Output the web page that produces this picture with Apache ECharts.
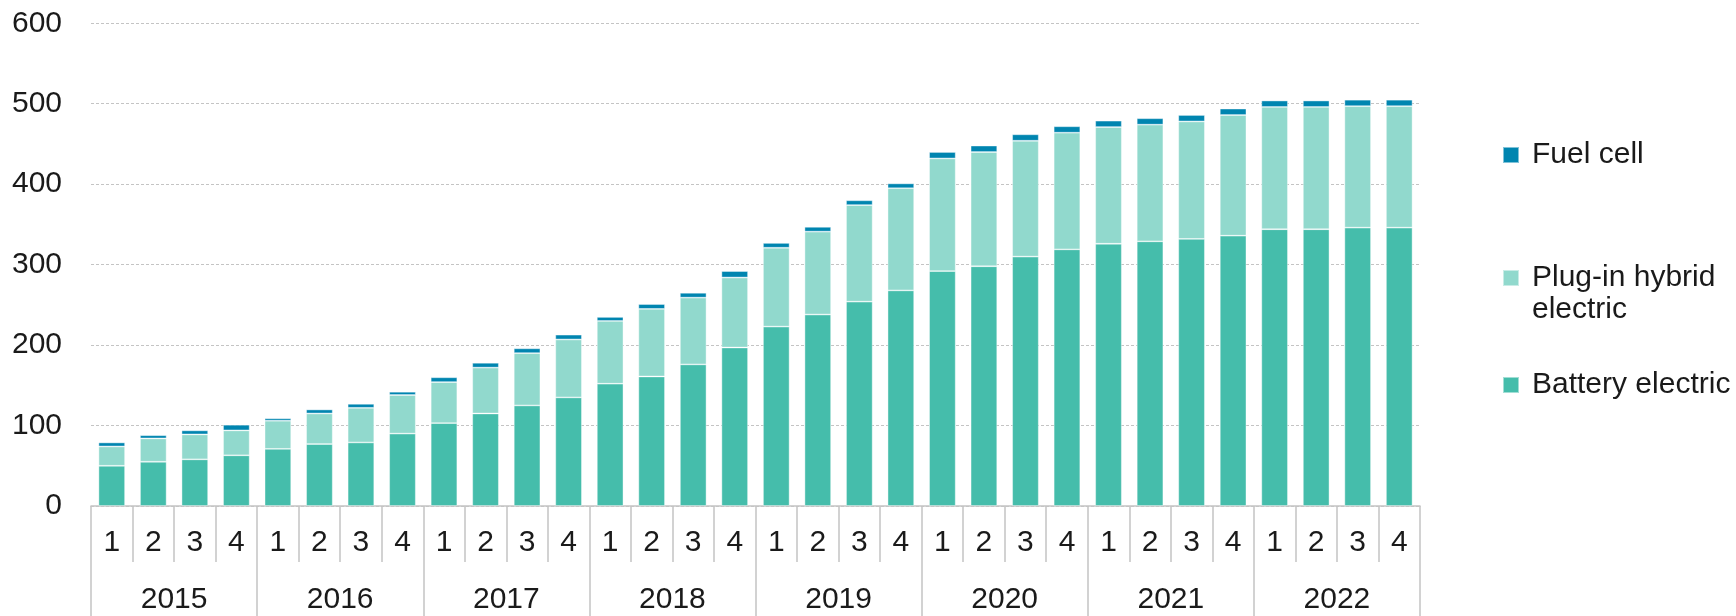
<!DOCTYPE html>
<html>
<head>
<meta charset="utf-8">
<script src="https://cdn.jsdelivr.net/npm/echarts@6/dist/echarts.min.js"></script>
<style>
  html, body { margin: 0; padding: 0; background: #fff; }
  #chart { width: 1736px; height: 616px; }
</style>
</head>
<body>
<div id="chart"></div>
<script>
const quarters = ['1', '2', '3', '4'];
const years = ['2015', '2016', '2017', '2018', '2019', '2020', '2021', '2022'];
const yTicks = [0, 100, 200, 300, 400, 500, 600];

// values per quarter, 2015 Q1 .. 2022 Q4
const batteryElectric = [
  50, 55, 58, 63,
  71, 77, 79, 90,
  103, 115, 125, 135,
  152, 161, 176, 197,
  223, 238, 254, 268,
  292, 298, 310, 319,
  326, 329, 332, 336,
  344, 344, 346, 346
];
const plugInHybrid = [
  24, 29, 31, 31,
  35, 38, 43, 48,
  51, 57, 65, 72,
  78, 84, 83, 87,
  98, 103, 120, 127,
  140, 142, 144, 145,
  145, 145, 146, 150,
  152, 152, 151, 151
];
const fuelCell = [
  5, 4, 5, 7,
  3, 5, 5, 4,
  6, 6, 6, 6,
  5, 6, 6, 8,
  6, 6, 6, 6,
  8, 8, 8, 8,
  8, 8, 8, 8,
  8, 8, 8, 8
];

const quarterLabels = [];
years.forEach(() => quarters.forEach(q => quarterLabels.push(q)));

const FONT = "'Liberation Sans', Arial, sans-serif";
const FS = 30;
const TEXT = '#1a1a1a';
const LINE = '#c4c4c4';

const chart = echarts.init(document.getElementById('chart'));

const legendBase = {
  orient: 'vertical',
  left: 1502,
  padding: 0,
  icon: 'rect',
  itemWidth: 16,
  itemHeight: 16,
  selectedMode: false,
  textStyle: { fontFamily: FONT, fontSize: FS, color: TEXT, lineHeight: 32, padding: [0, 0, 0, 8] }
};

const option = {
  animation: false,
  backgroundColor: '#fff',
  grid: { left: 91, right: 316, top: 23.3, bottom: 110, containLabel: false },
  legend: [
    Object.assign({}, legendBase, { top: 139, data: ['Fuel cell'] }),
    Object.assign({}, legendBase, {
      top: 230,
      data: ['Plug-in hybrid electric'],
      // blank first line keeps the marker level with "Plug-in hybrid"
      formatter: () => '\nPlug-in hybrid\nelectric'
    }),
    Object.assign({}, legendBase, { top: 369, data: ['Battery electric'] })
  ],
  xAxis: [
    {
      type: 'category',
      data: quarterLabels,
      boundaryGap: true,
      axisLine: { show: true, lineStyle: { color: LINE, width: 1.5 } },
      axisTick: { show: true, interval: 0, length: 56, lineStyle: { color: LINE, width: 1.5 } },
      axisLabel: { interval: 0, margin: 22, fontFamily: FONT, fontSize: FS, color: TEXT },
      splitLine: { show: false }
    },
    {
      type: 'category',
      data: years,
      position: 'bottom',
      boundaryGap: true,
      axisLine: { show: false },
      axisTick: { show: true, interval: 0, length: 110, lineStyle: { color: LINE, width: 1.5 } },
      axisLabel: { interval: 0, margin: 79, fontFamily: FONT, fontSize: FS, color: TEXT },
      splitLine: { show: false }
    }
  ],
  yAxis: {
    type: 'value',
    min: yTicks[0],
    max: yTicks[yTicks.length - 1],
    interval: 100,
    axisLine: { show: false },
    axisTick: { show: false },
    axisLabel: { margin: 29, fontFamily: FONT, fontSize: FS, color: TEXT },
    splitLine: { show: true, lineStyle: { color: LINE, type: [3, 2], width: 1 } }
  },
  series: [
    {
      name: 'Battery electric',
      type: 'bar',
      stack: 'total',
      data: batteryElectric,
      barCategoryGap: '36%',
      itemStyle: { color: '#45bdab', borderColor: 'rgba(255,255,255,0.5)', borderWidth: 0.8 }
    },
    {
      name: 'Plug-in hybrid electric',
      type: 'bar',
      stack: 'total',
      data: plugInHybrid,
      barCategoryGap: '36%',
      itemStyle: { color: '#91d9cd', borderColor: 'rgba(255,255,255,0.5)', borderWidth: 0.8 }
    },
    {
      name: 'Fuel cell',
      type: 'bar',
      stack: 'total',
      data: fuelCell,
      barCategoryGap: '36%',
      itemStyle: { color: '#0085b0', borderColor: 'rgba(255,255,255,0.5)', borderWidth: 0.8 }
    }
  ]
};

chart.setOption(option);
</script>
</body>
</html>
